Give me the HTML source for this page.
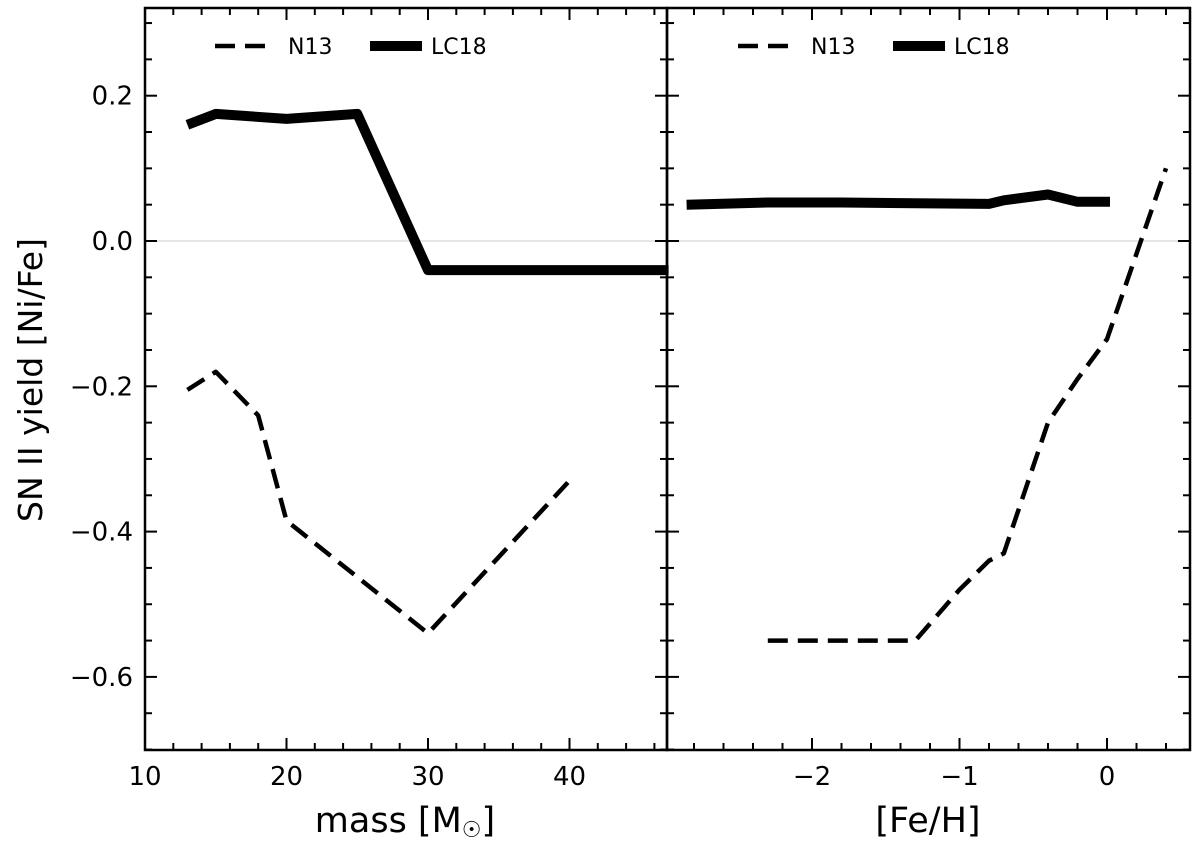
<!DOCTYPE html>
<html><head><meta charset="utf-8"><style>
body{margin:0;background:#fff;}
svg text{font-family:"DejaVu Sans","Liberation Sans",sans-serif;fill:#000;}
</style></head><body>
<svg id="chart" width="1200" height="845" viewBox="0 0 1200 845" xmlns="http://www.w3.org/2000/svg"></svg>
<script>
const massN13 = [13,15,18,20,30,40];
const niN13Mass = [-0.205,-0.18,-0.24,-0.385,-0.54,-0.33];
const massLC18 = [13,15,20,25,30,40,47];
const niLC18Mass = [0.16,0.175,0.168,0.175,-0.04,-0.04,-0.04];
const fehN13 = [-2.3,-1.3,-1.0,-0.8,-0.7,-0.4,-0.2,0.0,0.4];
const niN13Feh = [-0.55,-0.55,-0.48,-0.44,-0.43,-0.25,-0.19,-0.135,0.1];
const fehLC18 = [-2.85,-2.3,-1.8,-1.3,-0.8,-0.7,-0.4,-0.2,0.02];
const niLC18Feh = [0.05,0.053,0.053,0.052,0.051,0.056,0.064,0.054,0.054];
const yTicks = [0.2,0.0,-0.2,-0.4,-0.6];
const yTickLabels = ["0.2","0.0","\u22120.2","\u22120.4","\u22120.6"];
const massTicks = [10,20,30,40];
const fehTicks = [-2,-1,0];
const fehTickLabels = ["\u22122","\u22121","0"];

const NS="http://www.w3.org/2000/svg";
const svg=document.getElementById('chart');
const yTop=8,yBot=750;
const y=v=>241-(v)*726.5;
const xL=v=>145+(v-10)*14.15;
const xR=v=>1107+v*147.5;
function el(tag,attrs,parent){const e=document.createElementNS(NS,tag);for(const k in attrs)e.setAttribute(k,attrs[k]);(parent||svg).appendChild(e);return e;}
function txt(s,x0,y0,size,anchor){const t=el('text',{x:x0,y:y0,'font-size':size,'text-anchor':anchor||'middle'});t.textContent=s;return t;}

function panel(x0,x1,name){
  const g=el('g',{});
  
  
  el('line',{x1:x0,x2:x1,y1:y(0),y2:y(0),stroke:'#ddd','stroke-width':1.5},g);
  return g;
}
const gL=panel(145,667,'left-panel');
const gR=panel(667,1190,'right-panel');

function line(g,xs,ys,xf,dash,w,name){
  const d=xs.map((v,i)=>(i?'L':'M')+xf(v).toFixed(1)+','+y(ys[i]).toFixed(1)).join('');
  const p=el('path',{d:d,fill:'none',stroke:'#000','stroke-width':w,'stroke-dasharray':dash||'none','stroke-linejoin':'round'},g);
  
  
}
line(gL,massN13,niN13Mass,xL,'20,10',4.5,'n13-mass-line');
line(gL,massLC18,niLC18Mass,xL,null,10,'lc18-mass-line');
line(gR,fehN13,niN13Feh,xR,'20,10',4.5,'n13-feh-line');
line(gR,fehLC18,niLC18Feh,xR,null,10,'lc18-feh-line');

el('rect',{x:145,y:yTop,width:522,height:yBot-yTop,fill:'none',stroke:'#000','stroke-width':2.5});
el('rect',{x:667,y:yTop,width:523,height:yBot-yTop,fill:'none',stroke:'#000','stroke-width':2.5});

for(let k=-14;k<=6;k++){
  const vv=k/20;const major=k%4===0;const L=major?12:7;
  [[145,1],[667,-1],[667,1],[1190,-1]].forEach(([x0,s])=>el('line',{x1:x0,x2:x0+s*L,y1:y(vv),y2:y(vv),stroke:'#000','stroke-width':2}));
}
yTicks.forEach((v,i)=>{const t=txt(yTickLabels[i],133,y(v)+9,26,'end');});
for(let v=10;v<=46;v+=2){const major=v%10===0;const L=major?12:7;const X=xL(v);
  el('line',{x1:X,x2:X,y1:yBot,y2:yBot-L,stroke:'#000','stroke-width':2});
  el('line',{x1:X,x2:X,y1:yTop,y2:yTop+L,stroke:'#000','stroke-width':2});}
massTicks.forEach(v=>{const t=txt(String(v),xL(v),785,26);});
for(let k=-14;k<=2;k++){const v=k/5;const major=k%5===0;const L=major?12:7;const X=xR(v);
  el('line',{x1:X,x2:X,y1:yBot,y2:yBot-L,stroke:'#000','stroke-width':2});
  el('line',{x1:X,x2:X,y1:yTop,y2:yTop+L,stroke:'#000','stroke-width':2});}
fehTicks.forEach((v,i)=>{const t=txt(fehTickLabels[i],xR(v),785,26);});
</script>
<svg width="1200" height="845" style="position:absolute;left:0;top:0" xmlns="http://www.w3.org/2000/svg">
<text x="405" y="832" font-size="35" text-anchor="middle" font-family="DejaVu Sans">mass [M<tspan font-size="22" dy="5">☉</tspan><tspan dy="-5">]</tspan></text>
<text x="928" y="832" font-size="35" text-anchor="middle" font-family="DejaVu Sans">[Fe/H]</text>
<text transform="translate(42,380) rotate(-90)" font-size="33" text-anchor="middle" font-family="DejaVu Sans">SN II yield [Ni/Fe]</text>
<g>
<line x1="215" x2="268" y1="46" y2="46" stroke="#000" stroke-width="4.5" stroke-dasharray="20,10"/>
<text x="288" y="54" font-size="22" font-family="DejaVu Sans">N13</text>
<line x1="370" x2="422" y1="46" y2="46" stroke="#000" stroke-width="10"/>
<text x="431" y="54" font-size="22" font-family="DejaVu Sans">LC18</text>
</g>
<g>
<line x1="738" x2="791" y1="46" y2="46" stroke="#000" stroke-width="4.5" stroke-dasharray="20,10"/>
<text x="811" y="54" font-size="22" font-family="DejaVu Sans">N13</text>
<line x1="893" x2="945" y1="46" y2="46" stroke="#000" stroke-width="10"/>
<text x="954" y="54" font-size="22" font-family="DejaVu Sans">LC18</text>
</g>
</svg>
</body></html>
